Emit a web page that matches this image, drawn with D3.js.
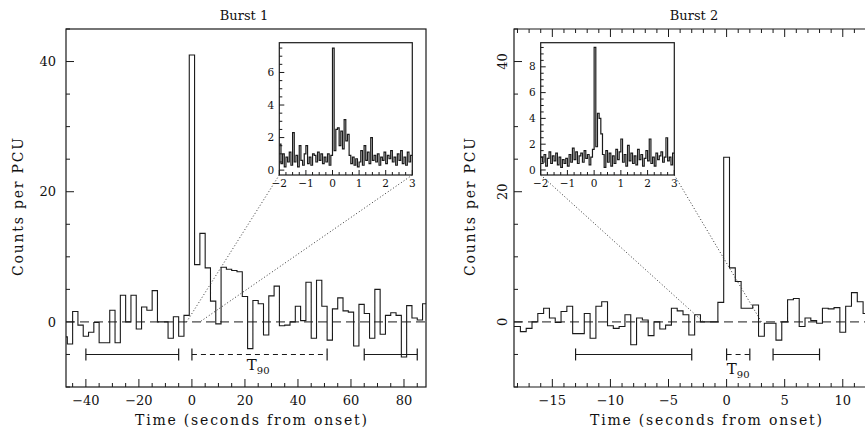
<!DOCTYPE html>
<html>
<head>
<meta charset="utf-8">
<script src="https://cdn.jsdelivr.net/npm/d3@7/dist/d3.min.js"></script>
<style>
body { margin: 0; background: #fff; }
svg { display: block; }
text { font-family: "DejaVu Serif", "Liberation Serif", serif; fill: #111; }
</style>
</head>
<body>
<svg id="chart" width="865" height="438"></svg>
<script>
// ---- data ----
// Burst 1, 2 s bins, first bin starts at -49 s
var burst1Start = -49, burst1Bin = 2;
var burst1Counts = [-2.3, -3.4, 1.6, -0.5, -2.2, -1.6, -0.1, -3.2, -3.2, 1.8,
    -3.2, 4.1, 0.0, 4.1, -1.1, 2.3, 1.8, 4.8, 0.0, 0.0,
    -2.5, 0.8, -2.2, 1.0, 41.0, 8.8, 13.6, 8.3, 3.2, -0.3,
    8.4, 8.1, 7.9, 7.7, 3.9, -4.1, 3.3, 2.8, -2.0, 4.0,
    5.5, -0.6, -0.5, 0.0, 2.4, 0.2, 6.1, -2.5, 6.4, 2.4,
    -2.8, 2.0, 3.7, 1.7, 1.5, -3.7, 2.7, 1.3, -2.5, 5.0,
    -1.9, 1.0, 1.4, 1.0, -5.4, 2.5, 0.6, 0.3, 2.8];

// Burst 2, 0.5 s bins, first bin starts at -18.75 s
var burst2Start = -18.75, burst2Bin = 0.5;
var burst2Counts = [-0.7, -0.7, -1.5, -1.0, 0.0, 1.3, 2.1, 0.6, -0.1, 1.6,
    2.4, -1.8, -1.8, 1.3, -2.5, 2.4, 3.1, -0.6, -1.0, -0.7,
    1.1, -3.5, 0.6, 0.3, -2.1, 0.0, -1.1, -0.5, 2.1, 1.7,
    1.1, -2.0, 1.1, 0.0, 0.0, 0.0, 3.0, 25.3, 8.3, 6.2,
    2.1, 2.1, 2.6, -2.2, -0.2, -0.2, -2.8, 0.0, 3.4, 3.6,
    -0.7, 0.6, 0.2, -0.2, 2.1, 2.0, 2.2, -1.6, 2.4, 4.5,
    3.1, 1.3];

// insets, 1/16 s bins from -2 s to 3 s
var insetStart = -2, insetBin = 1 / 16;
var inset1Counts = [1.6, 0.4, 1.0, 0.2, 0.8, 0.5, 1.1, 0.3,
    2.3, 0.5, 0.9, 0.2, 1.5, 0.6, 0.3, 1.0,
    1.5, 0.4, 0.8, 0.3, 1.0, 0.9, 0.5, 1.1,
    0.6, 1.0, 0.4, 0.8, 0.5, 1.0, 0.3, 0.9,
    7.5, 1.2, 2.5, 2.6, 1.5, 2.4, 1.3, 3.1,
    1.8, 2.2, 0.9, 0.4, 0.8, 0.3, 0.7, 0.2,
    0.5, 1.2, 0.3, 1.5, 0.6, 1.1, 0.4, 2.0,
    0.6, 0.9, 0.5, 1.0, 0.3, 0.8, 0.6, 1.1,
    0.4, 0.9, 0.7, 1.2, 0.5, 0.8, 0.3, 1.0,
    0.6, 1.2, 0.4, 0.8, 0.3, 1.1, 0.5, 0.9];
var inset2Counts = [1.0, 0.6, 1.2, 0.3, 0.9, 1.4, 0.5, 1.1,
    0.7, 1.3, 0.4, 1.0, 0.2, 0.8, 0.5, 0.9,
    0.3, 1.2, 0.6, 1.7, 0.8, 1.4, 0.5, 1.1,
    1.3, 0.6, 1.5, 0.9, 1.2, 0.4, 1.0, 1.6,
    9.5, 1.8, 4.4, 4.0, 2.8, 1.2, 0.2, 1.5,
    0.6, 1.3, 0.3, 1.1, 0.5, 1.6, 0.8, 1.4,
    2.4, 0.6, 1.2, 0.3, 1.9, 0.7, 1.3, 0.5,
    1.1, 0.4, 1.6, 0.8, 1.2, 0.3, 0.9, 1.5,
    0.7, 2.4, 0.5, 1.0, 0.3, 1.3, 0.8, 1.1,
    1.4, 0.6, 1.0, 2.5, 0.7, 1.0, 0.4, 1.3];

// interval bars (seconds) and T90
var burst1Background = [[-40, -5], [65, 85]], burst1T90 = [0, 51];
var burst2Background = [[-13, -3], [4, 8]], burst2T90 = [0, 2];

// tick labels
var countTicks = [0, 20, 40];
var burst1TimeTicks = [-40, -20, 0, 20, 40, 60, 80];
var burst2TimeTicks = [-15, -10, -5, 0, 5, 10];
var insetTimeTicks = [-2, -1, 0, 1, 2, 3];
var inset1CountTicks = [0, 2, 4, 6];
var inset2CountTicks = [0, 2, 4, 6, 8];

var svg = d3.select("#chart");
var ink = "#1a1a1a";
var fmt = d3.format("d");

function steps(start, width, counts) {
    var pts = counts.map(function(v, i) { return [start + i * width, v]; });
    pts.push([start + counts.length * width, counts[counts.length - 1]]);
    return pts;
}

function ticks(g, scale, values, orient, pos, len) {
    g.selectAll(null).data(values).join("line")
        .attr("x1", function(d) { return orient == "x" ? scale(d) : pos; })
        .attr("x2", function(d) { return orient == "x" ? scale(d) : pos + len; })
        .attr("y1", function(d) { return orient == "x" ? pos : scale(d); })
        .attr("y2", function(d) { return orient == "x" ? pos + len : scale(d); })
        .attr("stroke", ink).attr("stroke-width", 1);
}

function minors(a, b, step, majors) {
    return d3.range(a, b + step / 2, step).filter(function(v) {
        return majors.indexOf(+v.toFixed(3)) < 0;
    });
}

function histogram(g, x, y, start, width, counts, id, box, sw) {
    g.append("clipPath").attr("id", id)
        .append("rect").attr("x", box[0]).attr("y", box[1])
        .attr("width", box[2] - box[0]).attr("height", box[3] - box[1]);
    var line = d3.line().curve(d3.curveStepAfter)
        .x(function(d) { return x(d[0]); }).y(function(d) { return y(d[1]); });
    g.append("path").datum(steps(start, width, counts))
        .attr("clip-path", "url(#" + id + ")")
        .attr("d", line).attr("fill", "none")
        .attr("stroke", ink).attr("stroke-width", sw).attr("stroke-linejoin", "miter");
}

function intervals(g, x, y, bg, t90) {
    var yy = y(-5);
    bg.forEach(function(iv) {
        g.append("line").attr("x1", x(iv[0])).attr("x2", x(iv[1]))
            .attr("y1", yy).attr("y2", yy).attr("stroke", ink).attr("stroke-width", 1.1);
    });
    g.append("line").attr("x1", x(t90[0])).attr("x2", x(t90[1]))
        .attr("y1", yy).attr("y2", yy).attr("stroke", ink).attr("stroke-width", 1.1)
        .attr("stroke-dasharray", "5,4");
    var caps = [];
    bg.forEach(function(iv) { caps.push(iv[0], iv[1]); });
    caps.push(t90[0], t90[1]);
    g.selectAll(null).data(caps).join("line")
        .attr("x1", function(d) { return x(d); }).attr("x2", function(d) { return x(d); })
        .attr("y1", yy - 6).attr("y2", yy + 6)
        .attr("stroke", ink).attr("stroke-width", 1.2);
}

function t90Label(g, cx, base) {
    var t = g.append("text").attr("x", cx).attr("y", base)
        .attr("text-anchor", "middle").style("font-size", "15px");
    t.append("tspan").text("T");
    t.append("tspan").attr("dy", 4).style("font-size", "10px").text("90");
}

function inset(g, x, y, counts, countTicks, id) {
    var x0 = x.range()[0], x1 = x.range()[1], yb = y.range()[0], yt = y.range()[1];
    g.append("rect").attr("x", x0).attr("y", yt).attr("width", x1 - x0).attr("height", yb - yt)
        .attr("fill", "#fff");
    histogram(g, x, y, insetStart, insetBin, counts, id, [x0, yt, x1, yb], 1.2);
    ticks(g, x, minors(-2, 3, 0.25, insetTimeTicks), "x", yb, -3);
    ticks(g, x, insetTimeTicks, "x", yb, -5);
    var ymax = y.domain()[1];
    ticks(g, y, minors(0, Math.floor(ymax * 2) / 2, 0.5, countTicks), "y", x0, 3);
    ticks(g, y, countTicks, "y", x0, 5);
    g.append("rect").attr("x", x0).attr("y", yt).attr("width", x1 - x0).attr("height", yb - yt)
        .attr("fill", "none").attr("stroke", ink).attr("stroke-width", 1.2);
    g.selectAll(null).data(insetTimeTicks).join("text")
        .attr("x", function(d) { return x(d); }).attr("y", yb + 12)
        .attr("text-anchor", "middle").style("font-size", "10.5px")
        .text(function(d) { return fmt(d); });
    g.selectAll(null).data(countTicks).join("text")
        .attr("x", x0 - 5).attr("y", function(d) { return y(d); }).attr("dy", "0.35em")
        .attr("text-anchor", "end").style("font-size", "10.5px")
        .text(function(d) { return fmt(d); });
}

function connectors(g, xi, yi, xm, ym) {
    var yb = yi.range()[0];
    [-2, 3].forEach(function(t) {
        g.append("line").attr("x1", xi(t)).attr("y1", yb).attr("x2", xm(t)).attr("y2", ym(0))
            .attr("stroke", "#333").attr("stroke-width", 1).attr("stroke-dasharray", "1,2.2");
    });
}

function zeroLine(g, x, y) {
    g.append("line").attr("x1", x.range()[0]).attr("x2", x.range()[1])
        .attr("y1", y(0)).attr("y2", y(0))
        .attr("stroke", ink).attr("stroke-width", 1).attr("stroke-dasharray", "9,5");
}

// ================= Burst 1 =================
var p1 = svg.append("g");
var x1 = d3.scaleLinear().domain([-47.5, 88.3]).range([66, 426]);
var y1 = d3.scaleLinear().domain([-10, 45]).range([387, 29]);

zeroLine(p1, x1, y1);
histogram(p1, x1, y1, burst1Start, burst1Bin, burst1Counts, "clip1", [66, 29, 426, 387], 1.1);
intervals(p1, x1, y1, burst1Background, burst1T90);
t90Label(p1, x1(25), 370);

ticks(p1, x1, minors(-45, 85, 5, burst1TimeTicks), "x", 387, -4);
ticks(p1, x1, burst1TimeTicks, "x", 387, -8);
ticks(p1, y1, minors(-10, 45, 5, countTicks), "y", 66, 4);
ticks(p1, y1, countTicks, "y", 66, 8);
p1.append("rect").attr("x", 66).attr("y", 29).attr("width", 360).attr("height", 358)
    .attr("fill", "none").attr("stroke", ink).attr("stroke-width", 1.2);

p1.selectAll(null).data(burst1TimeTicks).join("text")
    .attr("x", function(d) { return x1(d); }).attr("y", 405)
    .attr("text-anchor", "middle").style("font-size", "13px")
    .text(function(d) { return fmt(d); });
p1.selectAll(null).data(countTicks).join("text")
    .attr("x", 56).attr("y", function(d) { return y1(d); }).attr("dy", "0.36em")
    .attr("text-anchor", "end").style("font-size", "13px")
    .text(function(d) { return fmt(d); });

var xi1 = d3.scaleLinear().domain([-2, 3]).range([279.3, 412.3]);
var yi1 = d3.scaleLinear().domain([-0.3, 7.83]).range([175, 42.7]);
inset(p1, xi1, yi1, inset1Counts, inset1CountTicks, "clipi1");
connectors(p1, xi1, yi1, x1, y1);

p1.append("text").attr("x", 244).attr("y", 20).attr("text-anchor", "middle")
    .style("font-size", "13px").text("Burst 1");
p1.append("text").attr("transform", "translate(23,207) rotate(-90)").attr("text-anchor", "middle")
    .style("font-size", "14px").attr("textLength", 138).attr("lengthAdjust", "spacing")
    .text("Counts per PCU");
p1.append("text").attr("x", 251).attr("y", 425).attr("text-anchor", "middle")
    .style("font-size", "14px").attr("textLength", 232).attr("lengthAdjust", "spacing")
    .text("Time (seconds from onset)");

// ================= Burst 2 =================
var p2 = svg.append("g");
var x2 = d3.scaleLinear().domain([-18.3, 12]).range([514, 866]);
var y2 = d3.scaleLinear().domain([-10, 45]).range([387, 29]);

zeroLine(p2, x2, y2);
histogram(p2, x2, y2, burst2Start, burst2Bin, burst2Counts, "clip2", [514, 29, 866, 387], 1.1);
intervals(p2, x2, y2, burst2Background, burst2T90);
t90Label(p2, x2(1), 374);

var b2Minor = minors(-18, 12, 1, burst2TimeTicks);
ticks(p2, x2, b2Minor, "x", 387, -4);
ticks(p2, x2, burst2TimeTicks, "x", 387, -8);
ticks(p2, x2, b2Minor, "x", 29, 4);
ticks(p2, x2, burst2TimeTicks, "x", 29, 8);
ticks(p2, y2, minors(-10, 45, 5, countTicks), "y", 514, 4);
ticks(p2, y2, countTicks, "y", 514, 8);
p2.append("path").attr("d", "M866,29H514V387H866")
    .attr("fill", "none").attr("stroke", ink).attr("stroke-width", 1.2);

p2.selectAll(null).data(burst2TimeTicks).join("text")
    .attr("x", function(d) { return x2(d); }).attr("y", 405)
    .attr("text-anchor", "middle").style("font-size", "13px")
    .text(function(d) { return fmt(d); });
p2.selectAll(null).data(countTicks).join("text")
    .attr("transform", function(d) { return "translate(502," + y2(d) + ") rotate(-90)"; })
    .attr("dy", "0.36em").attr("text-anchor", "middle").style("font-size", "13px")
    .text(function(d) { return fmt(d); });

var xi2 = d3.scaleLinear().domain([-2, 3]).range([540.7, 674.3]);
var yi2 = d3.scaleLinear().domain([-0.39, 9.87]).range([175, 42.7]);
inset(p2, xi2, yi2, inset2Counts, inset2CountTicks, "clipi2");
connectors(p2, xi2, yi2, x2, y2);

p2.append("text").attr("x", 694).attr("y", 20).attr("text-anchor", "middle")
    .style("font-size", "13px").text("Burst 2");
p2.append("text").attr("transform", "translate(475,207) rotate(-90)").attr("text-anchor", "middle")
    .style("font-size", "14px").attr("textLength", 138).attr("lengthAdjust", "spacing")
    .text("Counts per PCU");
p2.append("text").attr("x", 706).attr("y", 425).attr("text-anchor", "middle")
    .style("font-size", "14px").attr("textLength", 232).attr("lengthAdjust", "spacing")
    .text("Time (seconds from onset)");
</script>
</body>
</html>
